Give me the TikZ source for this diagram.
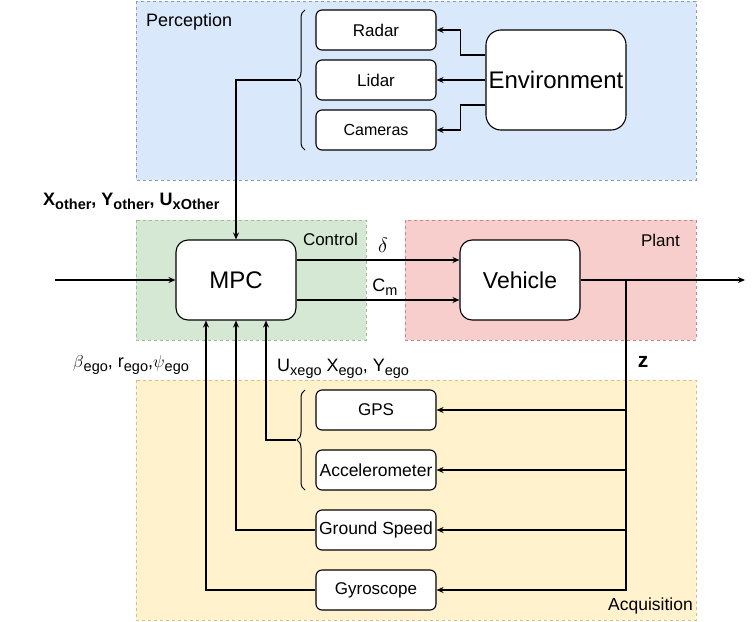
\documentclass[tikz,border=0pt]{standalone}
\usepackage{fontspec}
\setmainfont{Liberation Sans}
\usetikzlibrary{arrows.meta,decorations.pathreplacing,calc}
\definecolor{pfill}{HTML}{DAE8FC}\definecolor{pline}{HTML}{8A9BB5}
\definecolor{gfill}{HTML}{D5E8D4}\definecolor{gline}{HTML}{9CBF8F}
\definecolor{rfill}{HTML}{F8CECC}\definecolor{rline}{HTML}{C98582}
\definecolor{yfill}{HTML}{FFF2CC}\definecolor{yline}{HTML}{D9C07A}
\newcommand\lsub[1]{\raisebox{-4pt}{\fontsize{14.5}{15}\selectfont #1}}
\begin{document}
\begin{tikzpicture}[x=1pt,y=-1pt,
  region/.style={line width=0.8pt,dash pattern=on 3pt off 3pt},
  sbox/.style={draw,line width=1.1pt,fill=white,rounded corners=6pt,minimum width=120,minimum height=40,inner sep=0pt,font=\fontsize{16}{18}\selectfont},
  bbox/.style={draw,line width=1.1pt,fill=white,rounded corners=12pt,minimum width=120,minimum height=80,inner sep=0pt,font=\fontsize{24}{26}\selectfont},
  conn/.style={line width=1.1pt},
  arr/.style={conn,-{Stealth[length=7pt,width=6pt]}},
  lab/.style={inner sep=0pt,font=\fontsize{18}{20}\selectfont},
  brace/.style={line width=1pt,decorate,decoration={brace,amplitude=8pt,raise=0pt}}
]
\useasboundingbox (0,0) rectangle (754,621);
% regions
\path[region,fill=pfill,draw=pline] (136,1) rectangle (696,180);
\path[region,fill=gfill,draw=gline] (136,220) rectangle (366,340);
\path[region,fill=rfill,draw=rline] (405,220) rectangle (696,340);
\path[region,fill=yfill,draw=yline] (136,380) rectangle (696,620);
\node[lab,anchor=base west,font=\fontsize{18}{20}\selectfont] (tperc) at (146,26) {Perception};
\node[lab,anchor=base east,font=\fontsize{17}{19}\selectfont] (tctrl) at (358,245) {Control};
\node[lab,anchor=base east,font=\fontsize{17}{19}\selectfont] (tplant) at (680,246) {Plant};
\node[lab,anchor=base east,font=\fontsize{17.5}{19}\selectfont] (tacq) at (693,610) {Acquisition};
% boxes
\node[sbox,font=\fontsize{17}{19}\selectfont] (radar) at (376,30) {Radar};
\node[sbox,font=\fontsize{17}{19}\selectfont] (lidar) at (376,80) {Lidar};
\node[sbox] (cam) at (376,130) {Cameras};
\node[bbox,minimum width=140,minimum height=100,rounded corners=15pt] (env) at (556,80) {Environment};
\node[bbox] (mpc) at (236,280) {MPC};
\node[bbox,font=\fontsize{23}{25}\selectfont] (veh) at (520,280) {Vehicle};
\node[sbox,font=\fontsize{17}{19}\selectfont] (gps) at (376,410) {GPS};
\node[sbox,font=\fontsize{17.5}{19}\selectfont] (acc) at (376,470) {Accelerometer};
\node[sbox,font=\fontsize{17.5}{19}\selectfont] (gs) at (376,530) {Ground Speed};
\node[sbox,font=\fontsize{17}{19}\selectfont] (gyro) at (376,590) {Gyroscope};
% braces
\draw[brace] (305,150) -- (305,10);
\coordinate (pb) at (296,80);
\draw[brace] (305,490) -- (305,390);
\coordinate (ab) at (296,440);
% environment to sensors
\draw[arr] ([yshift=25pt]env.west) -- ++(-25,0) |- (radar.east);
\draw[arr] (env.west) -- (lidar.east);
\draw[arr] ([yshift=-25pt]env.west) -- ++(-25,0) |- (cam.east);
% perception to MPC
\draw[arr] (pb) -| (mpc.north);
% input
\coordinate (in) at (55,280);
\draw[arr] (in) -- (mpc.west);
% MPC to vehicle
\draw[arr] ([yshift=20pt]mpc.east) -- ([yshift=20pt]veh.west);
\draw[arr] ([yshift=-20pt]mpc.east) -- ([yshift=-20pt]veh.west);
% output
\coordinate (out) at (745,280);
\coordinate (j) at (626,280);
\draw[arr] (veh.east) -- (out);
\draw[arr] (j) |- (gps.east);
\draw[arr] (j) |- (acc.east);
\draw[arr] (j) |- (gs.east);
\draw[arr] (j) |- (gyro.east);
% acquisition to MPC
\draw[arr] (ab) -| ([xshift=30pt]mpc.south);
\draw[arr] (gs.west) -| (mpc.south);
\draw[arr] (gyro.west) -| ([xshift=-30pt]mpc.south);
% labels
\node[lab,anchor=base west,font=\fontsize{18}{20}\selectfont\bfseries] (lother) at (43,205) {X\lsub{other}, Y\lsub{other}, U\lsub{xOther}};
\node[lab,anchor=base west] (lbeta) at (73,367) {$\beta$\lsub{ego}, r\lsub{ego},$\psi$\lsub{ego}};
\node[lab,anchor=base west] (lux) at (277,371) {U\lsub{xego} X\lsub{ego}, Y\lsub{ego}};
\node[lab,font=\fontsize{20}{22}\selectfont] (ldelta) at (383,245) {$\delta$};
\node[lab,anchor=base] (lcm) at (385,291) {C\lsub{m}};
\node[lab,font=\fontsize{21}{23}\selectfont\bfseries] (lz) at (643,362) {z};
\end{tikzpicture}
\end{document}
